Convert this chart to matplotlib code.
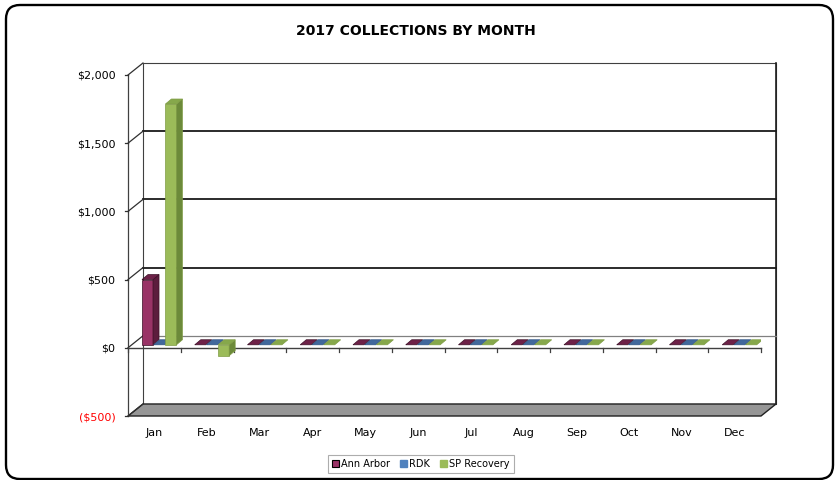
import matplotlib
matplotlib.use("Agg")
import matplotlib.pyplot as plt
from matplotlib.patches import Polygon, Patch, FancyBboxPatch
from matplotlib.transforms import IdentityTransform

months = ["Jan", "Feb", "Mar", "Apr", "May", "Jun", "Jul", "Aug", "Sep", "Oct", "Nov", "Dec"]
series_names = ["Ann Arbor", "RDK", "SP Recovery"]
ann_arbor = [478, 0, 0, 0, 0, 0, 0, 0, 0, 0, 0, 0]
rdk = [0, 0, 0, 0, 0, 0, 0, 0, 0, 0, 0, 0]
sp_recovery = [1765, -80, 0, 0, 0, 0, 0, 0, 0, 0, 0, 0]
y_ticks = [-500, 0, 500, 1000, 1500, 2000]
y_labels = ["($500)", "$0", "$500", "$1,000", "$1,500", "$2,000"]
title = "2017 COLLECTIONS BY MONTH"

front_cols = ["#993366", "#4f81bd", "#9bbb59"]
side_cols = ["#5c1d3d", "#365f8f", "#6c8a3a"]
top_cols = ["#6e2148", "#41689c", "#86a84b"]
edge_cols = ["#3a0f25", "#2f5382", "#7f9c45"]

W, H = 835, 480
fig = plt.figure(figsize=(W / 100, H / 100), dpi=100)
fig.patch.set_facecolor("white")

# axes = front plane (pixels): x 128..761, y 75..416 (from top)
ax = fig.add_axes([128 / W, (H - 416) / H, (761 - 128) / W, (416 - 75) / H])
ax.set_xlim(0, 12)
ax.set_ylim(-500, 2000)
ax.set_facecolor("none")
for s in ax.spines.values():
    s.set_visible(False)

DX, DY = 0.284, 88.0       # wall depth in data units
BDX, BDY = 0.114, 37.0     # bar depth
BASE = 22.0                # bar plane offset (y)
BW = 0.209
BSTART = 0.265
BSTEP = 0.222

# back wall
back = Polygon([(DX, -500 + DY), (12 + DX, -500 + DY), (12 + DX, 2000 + DY), (DX, 2000 + DY)],
               closed=True, facecolor="white", edgecolor="#404040", lw=0.8, clip_on=False, zorder=0)
ax.add_patch(back)
ax.plot([12 + DX, 12 + DX], [-500 + DY, 2000 + DY], color="#202020", lw=1.2, clip_on=False, zorder=1)
# floor
floor = Polygon([(0, -500), (12, -500), (12 + DX, -500 + DY), (DX, -500 + DY)], closed=True,
                facecolor="#969696", edgecolor="#202020", lw=1.0, clip_on=False, zorder=1)
ax.add_patch(floor)
# back gridlines
for v in y_ticks[2:-1]:
    ax.plot([DX, 12 + DX], [v + DY, v + DY], color="#1a1a1a", lw=1.3, clip_on=False, zorder=1)
ax.plot([DX, 12 + DX], [DY, DY], color="#808080", lw=0.9, clip_on=False, zorder=1)
# left side wall
ax.plot([0, 0], [-500, 2000], color="#404040", lw=0.9, clip_on=False, zorder=1)
for v in y_ticks:
    ax.plot([0, DX], [v, v + DY], color="#303030", lw=0.9, clip_on=False, zorder=1)
    ax.plot([-0.06, 0], [v, v], color="#303030", lw=0.9, clip_on=False, zorder=1)
# front zero axis with ticks
ax.plot([0, 12], [0, 0], color="#404040", lw=1.0, clip_on=False, zorder=1.5)
for i in range(13):
    ax.plot([i, i], [0, -30], color="#404040", lw=0.9, clip_on=False, zorder=1.5)

# bars
all_series = [ann_arbor, rdk, sp_recovery]
for i in range(len(months)):
    for k, vals in enumerate(all_series):
        v = vals[i]
        l = i + BSTART + k * BSTEP
        z = 3 + i * 0.01 + k * 0.001
        lo, hi = min(BASE, BASE + v), max(BASE, BASE + v)
        if v != 0:
            ax.bar(l, v, width=BW, bottom=BASE, align="edge", color=front_cols[k],
                   edgecolor=edge_cols[k], lw=0.5, zorder=z)
            side = Polygon([(l + BW, lo), (l + BW, hi), (l + BW + BDX, hi + BDY), (l + BW + BDX, lo + BDY)],
                           closed=True, facecolor=side_cols[k], edgecolor=edge_cols[k], lw=0.5, zorder=z)
            ax.add_patch(side)
        top = Polygon([(l, hi), (l + BW, hi), (l + BW + BDX, hi + BDY), (l + BDX, hi + BDY)],
                      closed=True, facecolor=top_cols[k], edgecolor=edge_cols[k], lw=0.5, zorder=z)
        ax.add_patch(top)

ax.set_yticks(y_ticks)
ax.set_yticklabels(y_labels, fontsize=8)
for lab in ax.get_yticklabels():
    if lab.get_text().startswith("("):
        lab.set_color("#ff0000")
ax.tick_params(axis="y", length=0, pad=9)
ax.set_xticks([i + 0.5 for i in range(len(months))])
ax.set_xticklabels(months, fontsize=8)
ax.tick_params(axis="x", length=0, pad=9)

fig.text(416 / W, 1 - 31 / H, title, ha="center", va="center", fontsize=10, fontweight="bold")

handles = [Patch(facecolor=front_cols[0], edgecolor="#000000", lw=0.8),
           Patch(facecolor=front_cols[1], edgecolor=front_cols[1]),
           Patch(facecolor=front_cols[2], edgecolor=front_cols[2])]
leg = fig.legend(handles, series_names, loc="center", bbox_to_anchor=(421 / W, 1 - 464 / H), ncol=3,
                 fontsize=7, frameon=True, fancybox=False, edgecolor="#999999", handlelength=0.7,
                 handleheight=0.7, handletextpad=0.25, columnspacing=1.0, borderpad=0.4)
leg.get_frame().set_linewidth(0.8)

border = FancyBboxPatch((6, 1), 827, 474, boxstyle="round,pad=0,rounding_size=14",
                        transform=IdentityTransform(), facecolor="none", edgecolor="black", lw=1.7)
fig.add_artist(border)

fig.savefig("out.png", dpi=100)
